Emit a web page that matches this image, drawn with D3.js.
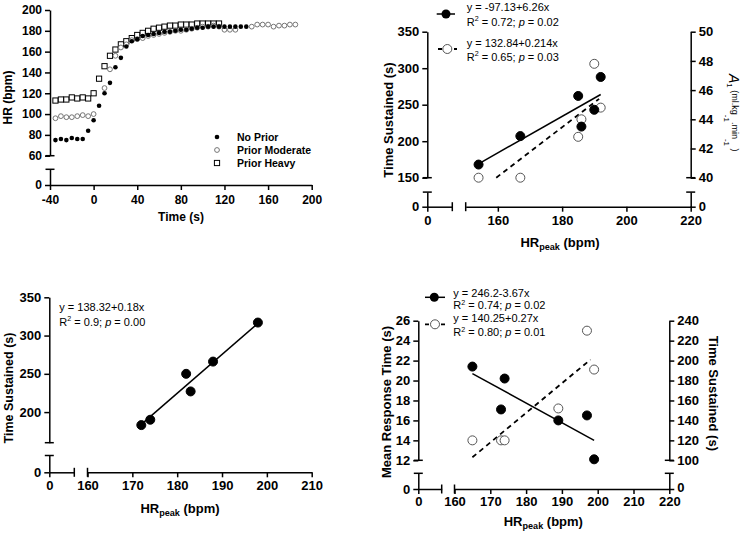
<!DOCTYPE html>
<html><head><meta charset="utf-8">
<script src="https://cdn.jsdelivr.net/npm/d3@7"></script>
<style>body{margin:0;background:#fff} text{font-family:"Liberation Sans",Arial,sans-serif}</style>
</head><body><script>
// ---------- Panel A : HR vs time ----------
const noPriorTime = [-35,-30,-25,-20,-15,-10,-5,0,5,10,15,20,25,30,35,40,45,50,55,60,65,70,75,80,85,90,95,100,105,110,115,120,125,130,135,140];
const noPriorHR   = [75,76,75,77,76,76,84,94,108,120,130,145,154,165,170,172,175,176,177,178,179,179,180,181,181,182,183,183,184,184,184,184,184,184,184,184];
const moderateTime = [-35,-30,-25,-20,-15,-10,-5,0,10,15,20,25,30,35,40,45,50,55,60,65,70,75,80,85,90,95,100,105,110,115,120,125,130,145,150,155,160,165,170,175,180,185];
const moderateHR   = [96,98,97,97,98,99,98,100,125,143,156,164,167,171,172,173,175,176,177,178,179,180,180,181,182,183,184,184,185,184,181,181,181,184,186,186,186,184,185,185,186,186];
const heavyTime = [-35,-30,-25,-20,-15,-10,-5,0,5,10,15,20,25,30,35,40,45,50,55,60,65,70,75,80,85,90,95,100,105,110,115];
const heavyHR   = [113,114,114,116,115,116,115,120,134,146,156,162,167,170,173,176,178,180,182,183,184,185,185,186,186,186,187,187,187,187,187];
const legendA = ['No Prior','Prior Moderate','Prior Heavy'];
const xTicksA = [-40,0,40,80,120,160,200];
const yTicksA = [60,80,100,120,140,160,180,200];

// ---------- Panel B : Time sustained & A1 vs HRpeak ----------
const hrPeakB = [154,167,185,186,190,192];
const timeSustainedB = [168,207,262,220,243,288];
const a1B = [40.0,40.0,42.8,44.0,47.8,44.8];
const fitTimeB_x = [154,192], fitTimeB_y = [169,264];
const fitA1B_x = [159.5,191.5], fitA1B_y = [40.0,45.4];
const eqB = ['y = -97.13+6.26x','y = 132.84+0.214x'];
const r2B = ['0.72','0.65'], pB = ['0.02','0.03'];
const xTicksB = [160,180,200,220];
const yTicksB = [150,200,250,300,350];
const yTicksBr = [40,42,44,46,48,50];

// ---------- Panel C ----------
const hrPeakC = [172,174,182,183,188,198];
const timeSustainedC = [183,190,250,227,266,317];
const fitC_x = [172,198], fitC_y = [184,316];
const eqC = 'y = 138.32+0.18x', r2C = '0.9', pC = '0.00';
const xTicksC = [160,170,180,190,200,210];
const yTicksC = [200,250,300,350];

// ---------- Panel D ----------
const hrPeakD = [165,173,174,189,197,199];
const mrtD = [21.4,17.1,20.2,16.0,16.5,12.1];
const timeSustainedD = [120,120,120,152,230,191];
const fitMrtD_x = [165,199], fitMrtD_y = [20.7,14.0];
const fitTsD_x = [165,198], fitTsD_y = [103,201];
const eqD = ['y = 246.2-3.67x','y = 140.25+0.27x'];
const r2D = ['0.74','0.80'], pD = ['0.02','0.01'];
const xTicksD = [160,170,180,190,200,210,220];
const yTicksD = [12,14,16,18,20,22,24,26];
const yTicksDr = [100,120,140,160,180,200,220,240];

const svg = d3.select('body').append('svg').attr('width',748).attr('height',533);
const FONT = '"Liberation Sans", Arial, sans-serif';

function axis(gen, scale, tx, ty, ticks, fs, pad) {
  const a = gen(scale).tickValues(ticks).tickFormat(d=>String(d)).tickSize(5).tickSizeOuter(0).tickPadding(pad);
  const g = svg.append('g').attr('transform',`translate(${tx},${ty})`).call(a);
  g.selectAll('path.domain').attr('stroke','#000').attr('stroke-width',1.5);
  g.selectAll('.tick line').attr('stroke','#000').attr('stroke-width',1.5);
  g.selectAll('.tick text').attr('font-size',fs).attr('font-weight','bold').attr('fill','#000').attr('font-family',FONT);
  return g;
}
function hcap(x,y){ svg.append('line').attr('x1',x-4.5).attr('x2',x+4.5).attr('y1',y).attr('y2',y).attr('stroke','#000').attr('stroke-width',1.5); }
function vcap(x,y){ svg.append('line').attr('x1',x).attr('x2',x).attr('y1',y-4.5).attr('y2',y+4.5).attr('stroke','#000').attr('stroke-width',1.5); }
function title(x,y,rot,fs,parts){
  const t = svg.append('text').attr('transform',`translate(${x},${y}) rotate(${rot})`)
    .attr('text-anchor','middle').attr('font-size',fs).attr('font-weight','bold').attr('dy','0.35em');
  parts.forEach(p=>{ const s=t.append('tspan').text(p[0]); if(p[1]) s.attr('font-size',p[1]); if(p[2]!==undefined) s.attr('dy',p[2]); });
  return t;
}
function hrTitle(x,y,fs){ return title(x,y,0,fs,[['HR'],['peak',fs*0.7,fs*0.3],[' (bpm)',fs,-fs*0.3]]); }
function rLine(x,y,r2,p,fs){
  const t = svg.append('text').attr('x',x).attr('y',y).attr('font-size',fs).attr('fill','#000');
  t.append('tspan').text('R');
  t.append('tspan').text('2').attr('font-size',fs*0.65).attr('dy',-fs*0.4);
  t.append('tspan').text(' = '+r2+'; ').attr('dy',fs*0.4);
  t.append('tspan').text('p').attr('font-style','italic');
  t.append('tspan').text(' = '+p);
}
function eqLine(x,y,s,fs){ svg.append('text').attr('x',x).attr('y',y).attr('font-size',fs).attr('fill','#000').text(s); }
function dots(xs,ys,sx,sy,r,filled){
  svg.append('g').selectAll('circle').data(xs).join('circle')
    .attr('cx',(d)=>sx(d)).attr('cy',(d,i)=>sy(ys[i])).attr('r',r)
    .attr('fill',filled?'#000':'#fff').attr('stroke',filled?'#000':'#555').attr('stroke-width',1);
}
function fitLine(xs,ys,sx,sy,dashed){
  svg.append('line').attr('x1',sx(xs[0])).attr('x2',sx(xs[1])).attr('y1',sy(ys[0])).attr('y2',sy(ys[1]))
    .attr('stroke','#000').attr('stroke-width',dashed?1.8:1.5).attr('stroke-dasharray',dashed?'5,4':null);
}

// ================= Panel A =================
const xA = d3.scaleLinear([-40,200],[50,311.7]);
const yA = d3.scaleLinear([60,200],[155.7,10]);
const yA0 = d3.scaleLinear([0,15],[185,169.3]);
axis(d3.axisBottom, xA, 0, 185, xTicksA, 12, 5);
axis(d3.axisLeft, yA, 50, 0, yTicksA, 12, 3);
axis(d3.axisLeft, yA0, 50, 0, [0], 12, 3);
hcap(50,155.7); hcap(50,169.3);
svg.append('g').selectAll('rect').data(heavyTime).join('rect')
  .attr('x',d=>xA(d)-2.6).attr('y',(d,i)=>yA(heavyHR[i])-2.6).attr('width',5.2).attr('height',5.2)
  .attr('fill','#fff').attr('stroke','#000').attr('stroke-width',1);
svg.append('g').selectAll('circle').data(moderateTime).join('circle')
  .attr('cx',d=>xA(d)).attr('cy',(d,i)=>yA(moderateHR[i])).attr('r',2.4)
  .attr('fill','#fff').attr('stroke','#666').attr('stroke-width',0.9);
svg.append('g').selectAll('circle').data(noPriorTime).join('circle')
  .attr('cx',d=>xA(d)).attr('cy',(d,i)=>yA(noPriorHR[i])).attr('r',2.3).attr('fill','#000');
const legY = [137,150,163];
svg.append('circle').attr('cx',217).attr('cy',legY[0]).attr('r',2.3).attr('fill','#000');
svg.append('circle').attr('cx',217).attr('cy',legY[1]).attr('r',2.4).attr('fill','#fff').attr('stroke','#666').attr('stroke-width',0.9);
svg.append('rect').attr('x',214.4).attr('y',legY[2]-2.6).attr('width',5.2).attr('height',5.2).attr('fill','#fff').attr('stroke','#000');
legendA.forEach((s,i)=>svg.append('text').attr('x',237).attr('y',legY[i]+4).attr('font-size',10.5).attr('font-weight','bold').text(s));
title(7.5,97.5,-90,12,[['HR (bpm)']]);
title(181,217,0,12,[['Time (s)']]);

// ================= Panel B =================
const xB = d3.scaleLinear([150,220],[465.7,690.7]);
const xB0 = d3.scaleLinear([0,7.75],[427.3,452.3]);
const yB = d3.scaleLinear([150,350],[177.7,31.7]);
const yB0 = d3.scaleLinear([0,20],[206.7,192.1]);
const yBr = d3.scaleLinear([40,50],[177.7,31.7]);
const yBr0 = d3.scaleLinear([0,1],[206.7,192.1]);
axis(d3.axisBottom, xB0, 0, 206.7, [0], 13, 4);
axis(d3.axisBottom, xB, 0, 206.7, xTicksB, 13, 4);
vcap(452.3,206.7); vcap(465.7,206.7);
axis(d3.axisLeft, yB, 427.3, 0, yTicksB, 13, 3);
axis(d3.axisLeft, yB0, 427.3, 0, [0], 13, 3);
hcap(427.3,177.7); hcap(427.3,192.1);
axis(d3.axisRight, yBr, 690.7, 0, yTicksBr, 13, 3);
axis(d3.axisRight, yBr0, 690.7, 0, [0], 13, 3);
hcap(690.7,177.7); hcap(690.7,192.1);
fitLine(fitTimeB_x, fitTimeB_y, xB, yB, false);
fitLine(fitA1B_x, fitA1B_y, xB, yBr, true);
dots(hrPeakB, a1B, xB, yBr, 4.5, false);
dots(hrPeakB, timeSustainedB, xB, yB, 4.5, true);
svg.append('line').attr('x1',436.7).attr('x2',455).attr('y1',14).attr('y2',14).attr('stroke','#000').attr('stroke-width',1.5);
svg.append('circle').attr('cx',446).attr('cy',14).attr('r',4.5).attr('fill','#000');
svg.append('line').attr('x1',438).attr('x2',457).attr('y1',49).attr('y2',49).attr('stroke','#000').attr('stroke-width',1.8).attr('stroke-dasharray','4,4');
svg.append('circle').attr('cx',447.3).attr('cy',49).attr('r',4.5).attr('fill','#fff').attr('stroke','#555');
eqLine(466.7,11,eqB[0],11); rLine(466.7,25.5,r2B[0],pB[0],11);
eqLine(466.7,47,eqB[1],11); rLine(466.7,60.5,r2B[1],pB[1],11);
title(388.3,120,-90,13,[['Time Sustained (s)']]);
hrTitle(560,242,13);
{
  const t = svg.append('text').attr('transform','translate(729,74) rotate(90)').attr('font-size',9).attr('fill','#000');
  t.append('tspan').text('A').attr('font-size',14).attr('font-style','italic');
  t.append('tspan').text('1').attr('font-size',8).attr('dy',2);
  t.append('tspan').text(' (ml.kg').attr('dy',-5);
  t.append('tspan').text('-1').attr('font-size',8).attr('dy',8);
  t.append('tspan').text('.min').attr('dy',-8);
  t.append('tspan').text('-1').attr('font-size',8).attr('dy',8);
  t.append('tspan').text(' )').attr('dy',-8);
}

// ================= Panel C =================
const xC = d3.scaleLinear([160,210],[87.5,311.7]);
const xC0 = d3.scaleLinear([0,5.6],[49.3,74.3]);
const yC = d3.scaleLinear([160,350],[442.7,297.3]);
const yC0 = d3.scaleLinear([0,22],[472.3,455.5]);
axis(d3.axisBottom, xC0, 0, 472.3, [0], 13, 3);
axis(d3.axisBottom, xC, 0, 472.3, xTicksC, 13, 3);
vcap(74.3,472.3); vcap(87.5,472.3);
axis(d3.axisLeft, yC, 49.3, 0, yTicksC, 13, 3);
axis(d3.axisLeft, yC0, 49.3, 0, [0], 13, 3);
hcap(49.3,442.7); hcap(49.3,455.5);
fitLine(fitC_x, fitC_y, xC, yC, false);
dots(hrPeakC, timeSustainedC, xC, yC, 4.5, true);
eqLine(59.3,311,eqC,11); rLine(59.3,325.5,r2C,pC,11);
title(8.3,388,-90,12.5,[['Time Sustained (s)']]);
hrTitle(180,508,13);

// ================= Panel D =================
const xD = d3.scaleLinear([160,220],[454.5,669.3]);
const xD0 = d3.scaleLinear([0,6.5],[418.3,441.7]);
const yD = d3.scaleLinear([12,26],[460.3,320.7]);
const yD0 = d3.scaleLinear([0,1.57],[489,473.3]);
const yDr = d3.scaleLinear([100,240],[460.3,320.7]);
const yDr0 = d3.scaleLinear([0,15.7],[489,473.3]);
axis(d3.axisBottom, xD0, 0, 489, [0], 13, 2.5);
axis(d3.axisBottom, xD, 0, 489, xTicksD, 13, 2.5);
vcap(441.7,489); vcap(454.5,489);
axis(d3.axisLeft, yD, 418.3, 0, yTicksD, 13, 3);
axis(d3.axisLeft, yD0, 418.3, 0, [0], 13, 3);
hcap(418.3,460.3); hcap(418.3,473.3);
axis(d3.axisRight, yDr, 669.3, 0, yTicksDr, 13, 3);
const rz = axis(d3.axisRight, yDr0, 669.3, 0, [0], 13, 3);
rz.selectAll('.tick text').attr('dy','0.2em');
hcap(669.3,460.3); hcap(669.3,473.3);
fitLine(fitMrtD_x, fitMrtD_y, xD, yD, false);
fitLine(fitTsD_x, fitTsD_y, xD, yDr, true);
dots(hrPeakD, timeSustainedD, xD, yDr, 4.5, false);
dots(hrPeakD, mrtD, xD, yD, 4.5, true);
svg.append('line').attr('x1',425).attr('x2',445).attr('y1',297.3).attr('y2',297.3).attr('stroke','#000').attr('stroke-width',1.5);
svg.append('circle').attr('cx',434.3).attr('cy',297.3).attr('r',4.5).attr('fill','#000');
svg.append('line').attr('x1',425).attr('x2',446).attr('y1',324.3).attr('y2',324.3).attr('stroke','#000').attr('stroke-width',1.8).attr('stroke-dasharray','4,4');
svg.append('circle').attr('cx',435).attr('cy',324.3).attr('r',4.5).attr('fill','#fff').attr('stroke','#555');
eqLine(453.3,296.5,eqD[0],11); rLine(453.3,309,r2D[0],pD[0],11);
eqLine(453.3,321.5,eqD[1],11); rLine(453.3,336,r2D[1],pD[1],11);
title(386.7,402,-90,13,[['Mean Response Time (s)']]);
title(713.3,393.3,90,13,[['Time Sustained (s)']]);
hrTitle(543.3,521,13);
</script></body></html>
